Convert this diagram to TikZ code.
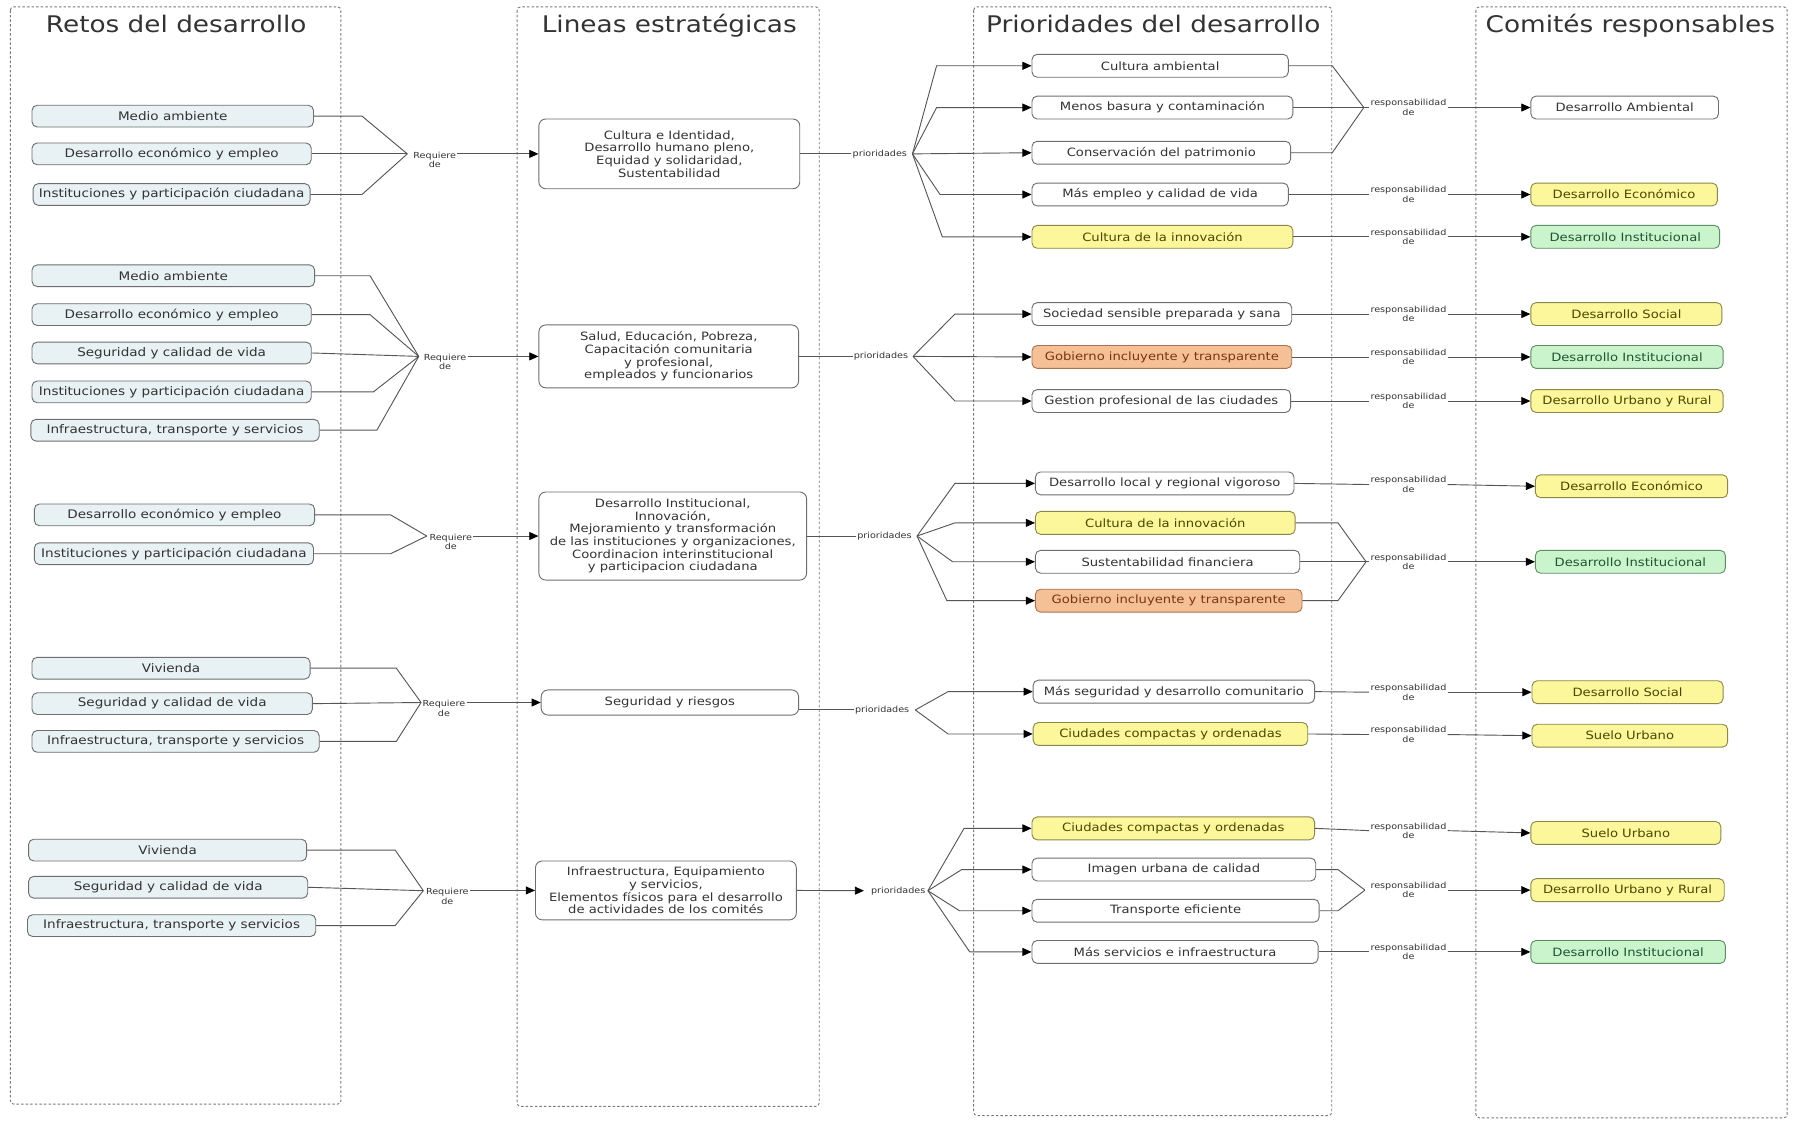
\documentclass[tikz,border=0pt]{standalone}
\usepackage{fontspec}
\setmainfont{DejaVu Sans}[FakeStretch=1.15]
\usetikzlibrary{arrows.meta}

\definecolor{txt}{HTML}{333333}
\definecolor{edge}{HTML}{6E6E6E}
\definecolor{wire}{HTML}{555555}
\definecolor{panelc}{HTML}{7A7A7A}
\definecolor{retofill}{HTML}{E8F1F3}
\definecolor{yel}{HTML}{FBF79A}
\definecolor{yeledge}{HTML}{8A874A}
\definecolor{yeltxt}{HTML}{4A4700}
\definecolor{org}{HTML}{F6C096}
\definecolor{orgedge}{HTML}{A87450}
\definecolor{orgtxt}{HTML}{7A3510}
\definecolor{grn}{HTML}{CAF4CC}
\definecolor{grnedge}{HTML}{5E8F63}
\definecolor{grntxt}{HTML}{1E5530}

\tikzset{
  panel/.style={draw=panelc, line width=0.8pt, dash pattern=on 2.2pt off 1.8pt, rounded corners=3pt},
  heading/.style={font=\fontsize{20}{24}\selectfont, text=txt, anchor=base, inner sep=0pt},
  boxbase/.style={draw=edge, line width=0.8pt, rounded corners=4.5pt, inner sep=0pt, align=center, text=txt},
  reto/.style={boxbase, fill=retofill, minimum height=19pt, font=\fontsize{10.3}{12}\selectfont},
  prio/.style={boxbase, fill=white, minimum height=20pt, font=\fontsize{10}{12}\selectfont},
  prioY/.style={prio, fill=yel, draw=yeledge, text=yeltxt},
  prioO/.style={prio, fill=org, draw=orgedge, text=orgtxt},
  prioG/.style={prio, fill=grn, draw=grnedge, text=grntxt},
  linea/.style={boxbase, fill=white, rounded corners=6pt, font=\fontsize{10}{11.1}\selectfont},
  linktag/.style={font=\fontsize{7.3}{8.2}\selectfont, text=txt, align=center, inner sep=1pt},
  ln/.style={draw=wire, line width=0.8pt},
  arr/.style={ln, -{Triangle[length=8pt,width=7pt,color=black]}},
}

% box: style, name, left x, right x, centre y, text
\newcommand\bx[6]{\node[#1, minimum width={(#4)-(#3)}] (#2) at ({((#3)+(#4))/2},#5) {#6};}
% strategic line box: name, left x, right x, top y, bottom y, text
\newcommand\lbx[6]{\node[linea, minimum width={(#3)-(#2)}, minimum height={(#5)-(#4)}] (#1) at ({((#2)+(#3))/2},{((#4)+(#5))/2}) {#6};}

\begin{document}
\begin{tikzpicture}[x=1pt,y=-1pt]
\fill[white] (0,0) rectangle (1568,979);
\useasboundingbox (0,0) rectangle (1568,979);

% column frames
\draw[panel] (9,6) rectangle (298,965);
\draw[panel] (452,6) rectangle (716,967);
\draw[panel] (851,6) rectangle (1164,975);
\draw[panel] (1290,6) rectangle (1562,977);

\node[heading] (h1) at (154,28) {Retos del desarrollo};
\node[heading] (h2) at (585,28) {Lineas estratégicas};
\node[heading] (h3) at (1008,28) {Prioridades del desarrollo};
\node[heading] (h4) at (1425,28) {Comités responsables};

% ---------- Retos del desarrollo ----------
\bx{reto}{a1}{28}{274}{101.5}{Medio ambiente}
\bx{reto}{a2}{28}{272}{134.5}{Desarrollo económico y empleo}
\bx{reto}{a3}{29}{271}{170}{Instituciones y participación ciudadana}

\bx{reto}{b1}{28}{275}{241}{Medio ambiente}
\bx{reto}{b2}{28}{272}{275}{Desarrollo económico y empleo}
\bx{reto}{b3}{28}{272}{308.5}{Seguridad y calidad de vida}
\bx{reto}{b4}{28}{272}{342.5}{Instituciones y participación ciudadana}
\bx{reto}{b5}{27}{279}{376}{Infraestructura, transporte y servicios}

\bx{reto}{c1}{30}{275}{450}{Desarrollo económico y empleo}
\bx{reto}{c2}{30}{274}{484}{Instituciones y participación ciudadana}

\bx{reto}{d1}{28}{271}{584}{Vivienda}
\bx{reto}{d2}{28}{273}{615}{Seguridad y calidad de vida}
\bx{reto}{d3}{28}{279}{648}{Infraestructura, transporte y servicios}

\bx{reto}{e1}{25}{268}{743}{Vivienda}
\bx{reto}{e2}{25}{269}{775.5}{Seguridad y calidad de vida}
\bx{reto}{e3}{24}{276}{809}{Infraestructura, transporte y servicios}

% ---------- Lineas estrategicas ----------
\lbx{L1}{471}{699}{104}{165}{Cultura e Identidad,\\Desarrollo humano pleno,\\Equidad y solidaridad,\\Sustentabilidad}
\lbx{L2}{471}{698}{284}{339}{Salud, Educación, Pobreza,\\Capacitación comunitaria\\y profesional,\\empleados y funcionarios}
\lbx{L3}{471}{705}{430}{507}{Desarrollo Institucional,\\Innovación,\\Mejoramiento y transformación\\de las instituciones y organizaciones,\\Coordinacion interinstitucional\\y participacion ciudadana}
\lbx{L4}{473}{698}{603}{625}{Seguridad y riesgos}
\lbx{L5}{468}{696}{752.5}{804}{Infraestructura, Equipamiento\\y servicios,\\Elementos físicos para el desarrollo\\de actividades de los comités}

% ---------- Prioridades del desarrollo ----------
\bx{prio}{p11}{902}{1126}{57.5}{Cultura ambiental}
\bx{prio}{p12}{902}{1130}{94}{Menos basura y contaminación}
\bx{prio}{p13}{902}{1128}{133.5}{Conservación del patrimonio}
\bx{prio}{p14}{902}{1126}{170}{Más empleo y calidad de vida}
\bx{prioY}{p15}{902}{1130}{207}{Cultura de la innovación}

\bx{prio}{p21}{902}{1129}{274.5}{Sociedad sensible preparada y sana}
\bx{prioO}{p22}{902}{1129}{312}{Gobierno incluyente y transparente}
\bx{prio}{p23}{902}{1128}{350.5}{Gestion profesional de las ciudades}

\bx{prio}{p31}{905}{1131}{422.5}{Desarrollo local y regional vigoroso}
\bx{prioY}{p32}{905}{1132}{457}{Cultura de la innovación}
\bx{prio}{p33}{905}{1136}{491}{Sustentabilidad financiera}
\bx{prioO}{p34}{905}{1138}{525}{Gobierno incluyente y transparente}

\bx{prio}{p41}{903}{1149}{604.5}{Más seguridad y desarrollo comunitario}
\bx{prioY}{p42}{903}{1143}{641.5}{Ciudades compactas y ordenadas}

\bx{prioY}{p51}{902}{1149}{724}{Ciudades compactas y ordenadas}
\bx{prio}{p52}{902}{1150}{760}{Imagen urbana de calidad}
\bx{prio}{p53}{902}{1153}{796}{Transporte eficiente}
\bx{prio}{p54}{902}{1152}{832}{Más servicios e infraestructura}

% ---------- Comites responsables ----------
\bx{prio}{k1}{1338}{1502}{94}{Desarrollo Ambiental}
\bx{prioY}{k2}{1338}{1501}{170}{Desarrollo Económico}
\bx{prioG}{k3}{1338}{1503}{207}{Desarrollo Institucional}
\bx{prioY}{k4}{1338}{1505}{274.5}{Desarrollo Social}
\bx{prioG}{k5}{1338}{1506}{312}{Desarrollo Institucional}
\bx{prioY}{k6}{1338}{1506}{350.5}{Desarrollo Urbano y Rural}
\bx{prioY}{k7}{1342}{1510}{425}{Desarrollo Económico}
\bx{prioG}{k8}{1342}{1508}{491}{Desarrollo Institucional}
\bx{prioY}{k9}{1339}{1506}{605}{Desarrollo Social}
\bx{prioY}{k10}{1339}{1510}{643}{Suelo Urbano}
\bx{prioY}{k11}{1338}{1504}{728}{Suelo Urbano}
\bx{prioY}{k12}{1338}{1507}{778}{Desarrollo Urbano y Rural}
\bx{prioG}{k13}{1338}{1508}{832}{Desarrollo Institucional}

% ---------- retos -> lineas ----------
\coordinate (jr1) at (356,134.5);
\draw[ln] (a1.east) -- ++(42,0) -- (jr1);
\draw[ln] (a2.east) -- (jr1);
\draw[ln] (a3.east) -- ++(45,0) -- (jr1);
\node[linktag] (rq1) at (380,139.5) {Requiere\\de};
\draw[arr] (rq1.east |- L1.west) -- (L1.west);

\coordinate (jr2) at (366,311.5);
\draw[ln] (b1.east) -- ++(48,0) -- (jr2);
\draw[ln] (b2.east) -- ++(51,0) -- (jr2);
\draw[ln] (b3.east) -- (jr2);
\draw[ln] (b4.east) -- ++(54,0) -- (jr2);
\draw[ln] (b5.east) -- ++(50,0) -- (jr2);
\node[linktag] (rq2) at (389,316.5) {Requiere\\de};
\draw[arr] (rq2.east |- L2.west) -- (L2.west);

\coordinate (jr3) at (373,468.5);
\draw[ln] (c1.east) -- ++(66,0) -- (jr3);
\draw[ln] (c2.east) -- ++(67,0) -- (jr3);
\node[linktag] (rq3) at (394,473.5) {Requiere\\de};
\draw[arr] (rq3.east |- L3.west) -- (L3.west);

\coordinate (jr4) at (368,614);
\draw[ln] (d1.east) -- ++(75,0) -- (jr4);
\draw[ln] (d2.east) -- (jr4);
\draw[ln] (d3.east) -- ++(67,0) -- (jr4);
\node[linktag] (rq4) at (388,619) {Requiere\\de};
\draw[arr] (rq4.east |- L4.west) -- (L4.west);

\coordinate (jr5) at (370,778.5);
\draw[ln] (e1.east) -- ++(77,0) -- (jr5);
\draw[ln] (e2.east) -- (jr5);
\draw[ln] (e3.east) -- ++(69,0) -- (jr5);
\node[linktag] (rq5) at (391,783.5) {Requiere\\de};
\draw[arr] (rq5.east |- L5.west) -- (L5.west);

% ---------- lineas -> prioridades ----------
\node[linktag] (pr1) at (769,134.5) {prioridades};
\draw[ln] (L1.east) -- (pr1.west);
\coordinate (jp1) at (797.5,134.5);
\draw[arr] (jp1) -- ([xshift=-83]p11.west) -- (p11.west);
\draw[arr] (jp1) -- ([xshift=-83]p12.west) -- (p12.west);
\draw[arr] (jp1) -- (p13.west);
\draw[arr] (jp1) -- ([xshift=-80]p14.west) -- (p14.west);
\draw[arr] (jp1) -- ([xshift=-78]p15.west) -- (p15.west);

\node[linktag] (pr2) at (770,311.5) {prioridades};
\draw[ln] (L2.east) -- (pr2.west);
\coordinate (jp2) at (798,311.5);
\draw[arr] (jp2) -- ([xshift=-67]p21.west) -- (p21.west);
\draw[arr] (jp2) -- (p22.west);
\draw[arr] (jp2) -- ([xshift=-67]p23.west) -- (p23.west);

\node[linktag] (pr3) at (773,468.5) {prioridades};
\draw[ln] (L3.east) -- (pr3.west);
\coordinate (jp3) at (801.5,468.5);
\draw[arr] (jp3) -- ([xshift=-70]p31.west) -- (p31.west);
\draw[arr] (jp3) -- ([xshift=-70]p32.west) -- (p32.west);
\draw[arr] (jp3) -- ([xshift=-72]p33.west) -- (p33.west);
\draw[arr] (jp3) -- ([xshift=-77]p34.west) -- (p34.west);

\node[linktag] (pr4) at (771,620.5) {prioridades};
\draw[ln] (L4.east |- pr4.west) -- (pr4.west);
\coordinate (jp4) at (800,620.5);
\draw[arr] (jp4) -- ([xshift=-74]p41.west) -- (p41.west);
\draw[arr] (jp4) -- ([xshift=-74]p42.west) -- (p42.west);

\node[linktag] (pr5) at (785,778.5) {prioridades};
\draw[arr] (L5.east) -- ([xshift=-5]pr5.west);
\coordinate (jp5) at (811,778.5);
\draw[arr] (jp5) -- ([xshift=-59]p51.west) -- (p51.west);
\draw[arr] (jp5) -- ([xshift=-61]p52.west) -- (p52.west);
\draw[arr] (jp5) -- ([xshift=-63]p53.west) -- (p53.west);
\draw[arr] (jp5) -- ([xshift=-54]p54.west) -- (p54.west);

% ---------- prioridades -> comites ----------
\node[linktag] (rs1) at (1231,94) {responsabilidad\\de};
\coordinate (jq1) at (1192,94);
\draw[ln] (p11.east) -- ++(38,0) -- (jq1);
\draw[ln] (p12.east) -- (rs1.west);
\draw[ln] (p13.east) -- ++(36,0) -- (jq1);
\draw[arr] (rs1.east) -- (k1.west);

\node[linktag] (rs2) at (1231,170) {responsabilidad\\de};
\draw[ln] (p14.east) -- (rs2.west);
\draw[arr] (rs2.east) -- (k2.west);

\node[linktag] (rs3) at (1231,207) {responsabilidad\\de};
\draw[ln] (p15.east) -- (rs3.west);
\draw[arr] (rs3.east) -- (k3.west);

\node[linktag] (rs4) at (1231,274.5) {responsabilidad\\de};
\draw[ln] (p21.east) -- (rs4.west);
\draw[arr] (rs4.east) -- (k4.west);

\node[linktag] (rs5) at (1231,312) {responsabilidad\\de};
\draw[ln] (p22.east) -- (rs5.west);
\draw[arr] (rs5.east) -- (k5.west);

\node[linktag] (rs6) at (1231,350.5) {responsabilidad\\de};
\draw[ln] (p23.east) -- (rs6.west);
\draw[arr] (rs6.east) -- (k6.west);

\node[linktag] (rs7) at (1231,423.5) {responsabilidad\\de};
\draw[ln] (p31.east) -- (rs7.west);
\draw[arr] (rs7.east) -- (k7.west);

\node[linktag] (rs8) at (1231,491) {responsabilidad\\de};
\coordinate (jq8) at (1194,491);
\draw[ln] (p32.east) -- ++(37,0) -- (jq8);
\draw[ln] (p33.east) -- (rs8.west);
\draw[ln] (p34.east) -- ++(31,0) -- (jq8);
\draw[arr] (rs8.east) -- (k8.west);

\node[linktag] (rs9) at (1231,605) {responsabilidad\\de};
\draw[ln] (p41.east) -- (rs9.west);
\draw[arr] (rs9.east) -- (k9.west);

\node[linktag] (rs10) at (1231,642) {responsabilidad\\de};
\draw[ln] (p42.east) -- (rs10.west);
\draw[arr] (rs10.east) -- (k10.west);

\node[linktag] (rs11) at (1231,726) {responsabilidad\\de};
\draw[ln] (p51.east) -- (rs11.west);
\draw[arr] (rs11.east) -- (k11.west);

\node[linktag] (rs12) at (1231,778) {responsabilidad\\de};
\coordinate (jq12) at (1193,778);
\draw[ln] (p52.east) -- ++(19,0) -- (jq12);
\draw[ln] (p53.east) -- ++(16,0) -- (jq12);
\draw[arr] (rs12.east) -- (k12.west);

\node[linktag] (rs13) at (1231,832) {responsabilidad\\de};
\draw[ln] (p54.east) -- (rs13.west);
\draw[arr] (rs13.east) -- (k13.west);

\end{tikzpicture}
\end{document}
